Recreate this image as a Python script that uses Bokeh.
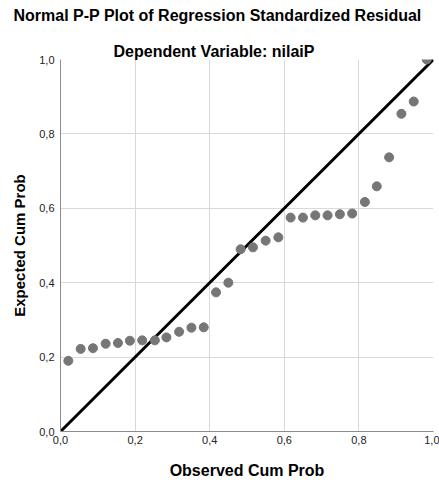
from bokeh.plotting import figure
from bokeh.models import Range1d, FixedTicker, CustomJSTickFormatter, Title
from bokeh.embed import file_html
from bokeh.resources import INLINE

# Observed vs expected cumulative probabilities
observed = [0.021, 0.054, 0.087, 0.121, 0.154, 0.186, 0.219, 0.253, 0.284, 0.318,
            0.351, 0.384, 0.417, 0.450, 0.483, 0.516, 0.550, 0.584, 0.617, 0.650,
            0.683, 0.716, 0.749, 0.782, 0.816, 0.848, 0.881, 0.914, 0.947, 0.982]
expected = [0.190, 0.222, 0.224, 0.236, 0.238, 0.244, 0.245, 0.245, 0.253, 0.268,
            0.279, 0.280, 0.374, 0.400, 0.490, 0.495, 0.513, 0.522, 0.575, 0.575,
            0.581, 0.581, 0.584, 0.586, 0.617, 0.659, 0.737, 0.854, 0.887, 1.000]
diag_x = [0.0, 1.0]
diag_y = [0.0, 1.0]
ticks = [0.0, 0.2, 0.4, 0.6, 0.8, 1.0]

title_text = "Normal P-P Plot of Regression Standardized Residual"
subtitle_text = "Dependent Variable: nilaiP"
x_label = "Observed Cum Prob"
y_label = "Expected Cum Prob"

FONT = "Liberation Sans"

p = figure(width=439, height=485, output_backend="svg", toolbar_location=None,
           x_range=Range1d(0, 1), y_range=Range1d(0, 1),
           min_border_left=60, min_border_right=6, min_border_top=59,
           min_border_bottom=54)
p.outline_line_color = None
p.background_fill_color = "white"
p.border_fill_color = "white"

# main title (outermost) -- figure's own title; trailing empty line adds a gap below it
p.title.text = title_text + "\n"
p.title.align = "left"
p.title.offset = -47
p.title.standoff = 0
p.title.text_line_height = 1.0
p.title.text_font = FONT
p.title.text_font_size = "16px"
p.title.text_font_style = "bold"
p.title.text_color = "black"

# subtitle (closest to the frame)
p.add_layout(Title(text=subtitle_text, align="left", offset=53, standoff=0,
                   text_font=FONT, text_font_size="16px", text_font_style="bold",
                   text_color="black"), "above")

fmt = CustomJSTickFormatter(code="return tick.toFixed(1).replace('.', ',');")
for ax in (p.xaxis[0], p.yaxis[0]):
    ax.ticker = FixedTicker(ticks=ticks)
    ax.formatter = fmt
    ax.major_tick_in = 0
    ax.major_tick_out = 0
    ax.minor_tick_in = 0
    ax.minor_tick_out = 0
    ax.axis_line_color = "#8c8c8c"
    ax.major_label_text_font = FONT
    ax.major_label_text_font_size = "11px"
    ax.major_label_text_color = "#222222"
    ax.axis_label_text_font = FONT
    ax.axis_label_text_font_style = "bold"
    ax.axis_label_text_color = "#000000"

p.xaxis.axis_label = x_label
p.yaxis.axis_label = y_label
p.xaxis.axis_label_text_font_size = "16px"
p.yaxis.axis_label_text_font_size = "15px"
p.xaxis.major_label_standoff = 4
p.xaxis.axis_label_standoff = 15
p.yaxis.major_label_standoff = 6
p.yaxis.axis_label_standoff = 8

for g in (p.xgrid[0], p.ygrid[0]):
    g.ticker = FixedTicker(ticks=ticks)
    g.grid_line_color = "#d9d9d9"
    g.grid_line_width = 1

p.line(diag_x, diag_y, line_color="black", line_width=3)
p.scatter(observed, expected, size=9, fill_color="#767676", line_color="#767676")

open("out.html", "w").write(file_html(p, INLINE))
